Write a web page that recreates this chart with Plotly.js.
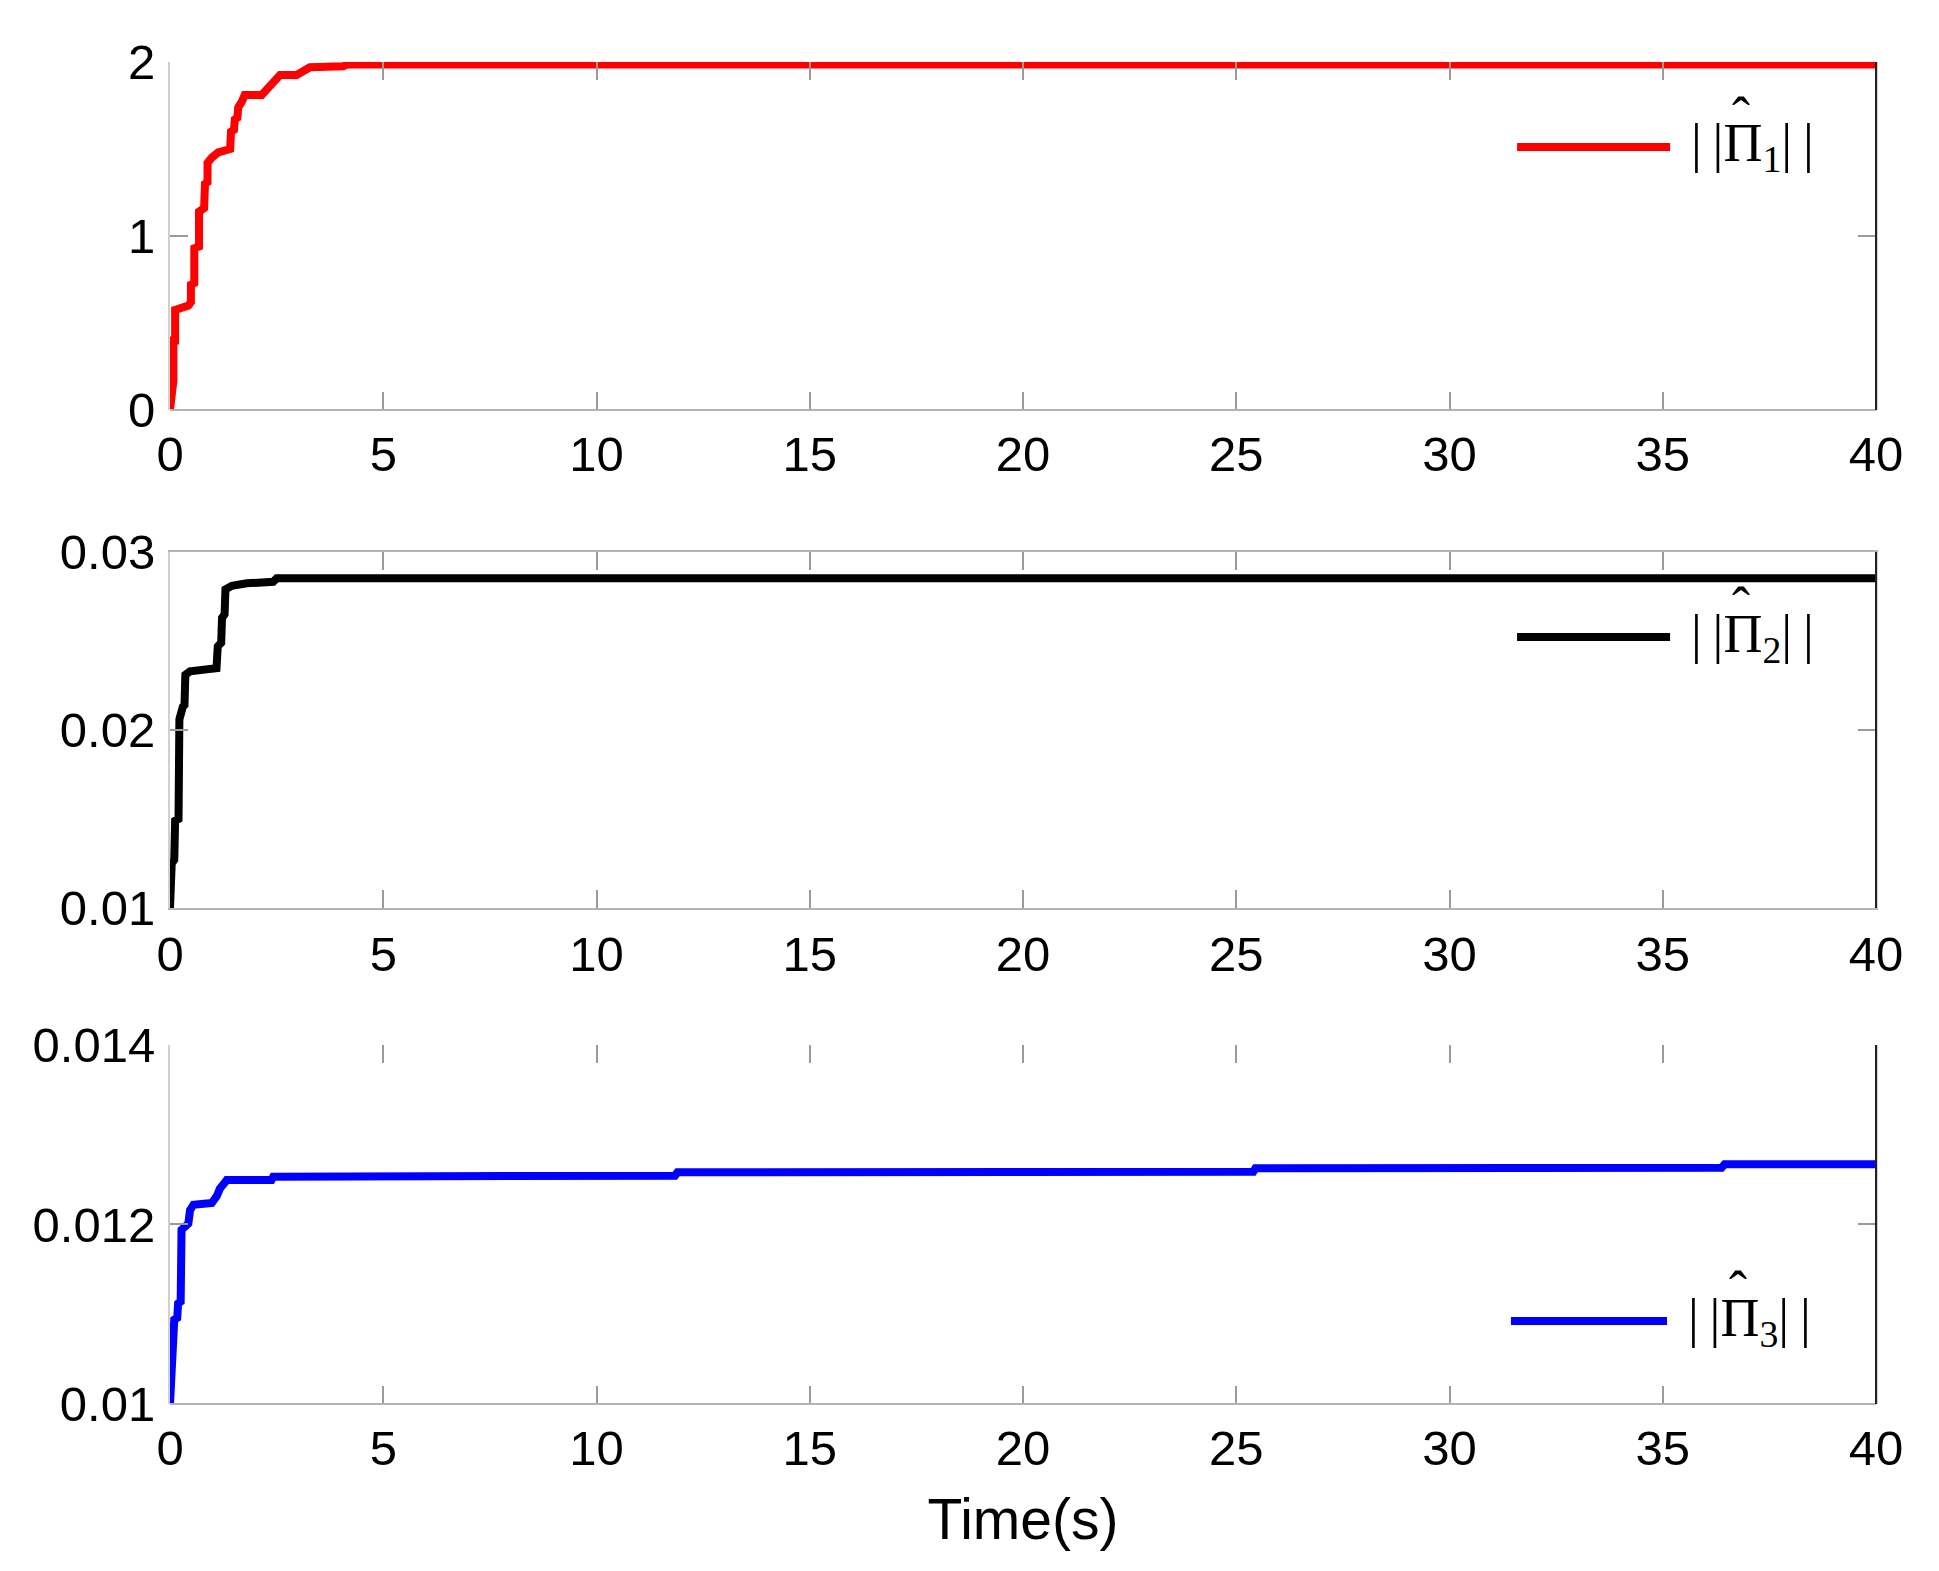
<!DOCTYPE html>
<html>
<head>
<meta charset="utf-8">
<script src="https://cdn.plot.ly/plotly-3.0.1.min.js"></script>
<style>
  html, body { margin: 0; padding: 0; background: #fff; }
  #plot1 { width: 1939px; height: 1571px; }
</style>
</head>
<body>
<div id="plot1"></div>
<script>
// estimated norms of the three estimates
var t1 = [0, 0.04, 0.08, 0.08, 0.12, 0.12, 0.20, 0.43, 0.49, 0.49, 0.57, 0.57, 0.68, 0.68, 0.80, 0.82,
  0.88, 0.88, 0.98, 1.13, 1.41, 1.43, 1.50, 1.52, 1.58, 1.60, 1.68, 1.75, 2.15, 2.58, 2.97, 3.28, 4.06, 4.14, 40];
var pi1 = [0, 0.17, 0.17, 0.40, 0.40, 0.575, 0.58, 0.60, 0.62, 0.72, 0.73, 0.93, 0.94, 1.14, 1.16, 1.30,
  1.31, 1.42, 1.45, 1.48, 1.50, 1.60, 1.61, 1.67, 1.68, 1.74, 1.77, 1.81, 1.81, 1.925, 1.925, 1.97, 1.975, 1.985, 1.985];

var t2 = [0, 0.04, 0.10, 0.12, 0.20, 0.22, 0.30, 0.34, 0.36, 0.47, 1.09, 1.12, 1.20, 1.22, 1.28, 1.30,
  1.45, 1.80, 2.42, 2.50, 40];
var pi2 = [0.0100, 0.0125, 0.0127, 0.0149, 0.0150, 0.0206, 0.0213, 0.0214, 0.0231, 0.0233, 0.02347, 0.0247,
  0.0249, 0.0263, 0.0265, 0.0279, 0.0281, 0.02824, 0.02833, 0.02852, 0.02852];

var t3 = [0, 0.04, 0.08, 0.10, 0.17, 0.19, 0.25, 0.27, 0.43, 0.47, 0.55, 0.98, 1.10, 1.17, 1.29, 1.33,
  2.38, 2.42, 11.84, 11.90, 25.40, 25.45, 36.38, 36.45, 40];
var pi3 = [0.0100, 0.01049, 0.0105, 0.01094, 0.01096, 0.01112, 0.01114, 0.01194, 0.01201, 0.01216, 0.01222,
  0.01224, 0.01232, 0.01240, 0.01247, 0.012496, 0.012496, 0.012533, 0.012544, 0.012582, 0.012588, 0.012626,
  0.012633, 0.01267, 0.01267];

// legend labels ||Π̂_i||, the hat is placed on top as its own text
var names = ['|\u2009|Π<sub>1</sub>|\u2009|', '|\u2009|Π<sub>2</sub>|\u2009|', '|\u2009|Π<sub>3</sub>|\u2009|'];
var colors = ['#ff0000', '#000000', '#0000ff'];

function draw() {
  try {
    var tickFont = {family: 'Liberation Sans, Arial, sans-serif', size: 49, color: '#000'};
    var serif = {family: 'Liberation Serif, Times New Roman, serif', size: 54, color: '#000'};

    var data = [
      {x: t1, y: pi1, xaxis: 'x', yaxis: 'y', mode: 'lines', line: {color: colors[0], width: 8}},
      {x: t2, y: pi2, xaxis: 'x2', yaxis: 'y2', mode: 'lines', line: {color: colors[1], width: 8}},
      {x: t3, y: pi3, xaxis: 'x3', yaxis: 'y3', mode: 'lines', line: {color: colors[2], width: 8}}
    ];

    // panels 1 and 3 have no top frame line, panel 2 has one
    function xax(anchor, topLine) {
      return {
        anchor: anchor, domain: [0, 1], range: [0, 40], dtick: 5,
        showgrid: false, zeroline: false, showline: topLine, linecolor: '#b4b4b4', linewidth: 2,
        mirror: 'ticks', ticks: 'inside', ticklen: 18, tickcolor: '#9a9a9a', tickwidth: 2,
        tickfont: tickFont, ticklabelstandoff: topLine ? 2 : 11, automargin: false
      };
    }
    function yax(anchor, dom, rng, dt) {
      return {
        anchor: anchor, domain: dom, range: rng, dtick: dt,
        showgrid: false, zeroline: false, showline: true, linecolor: '#d0d0d0', linewidth: 2,
        mirror: 'ticks', ticks: 'inside', ticklen: 18, tickcolor: '#9a9a9a', tickwidth: 2,
        tickfont: tickFont, ticklabelstandoff: 3, automargin: false
      };
    }

    var xa3 = xax('y3', false);
    xa3.title = {text: 'Time(s)', font: {family: 'Liberation Sans, Arial, sans-serif', size: 57, color: '#000'}, standoff: 25};

    var shapes = [], annotations = [];
    var legY = [0.756, 0.761, 0.231];
    var legX = [[0.7896, 0.8793], [0.7896, 0.8793], [0.786, 0.8775]];
    ['', '2', '3'].forEach(function (s, i) {
      var xr = 'x' + s + ' domain', yr = 'y' + s + ' domain';
      if (i !== 1) {
        // bottom frame line
        shapes.push({type: 'line', xref: xr, yref: yr, x0: 0, x1: 1, y0: 0, y1: 0,
          line: {color: '#b4b4b4', width: 2}, layer: 'above'});
      }
      shapes.push({type: 'line', xref: xr, yref: yr,
        x0: 1, x1: 1, y0: 0, y1: 1, line: {color: '#222', width: 2}, layer: 'above'});
      shapes.push({type: 'line', xref: xr, yref: yr,
        x0: legX[i][0], x1: legX[i][1], y0: legY[i], y1: legY[i], line: {color: colors[i], width: 8}});
      annotations.push({xref: xr, yref: yr, x: legX[i][1] + 0.011, y: legY[i],
        xanchor: 'left', yanchor: 'middle', showarrow: false, text: names[i], font: serif});
      annotations.push({xref: xr, yref: yr, x: legX[i][1] + 0.011, y: legY[i],
        xanchor: 'center', yanchor: 'middle', xshift: 52, yshift: 30, showarrow: false,
        text: '\u02C6', font: {family: serif.family, size: 54, color: '#000'}});
    });

    var layout = {
      width: 1939, height: 1571,
      margin: {l: 170, r: 63, t: 0, b: 167},
      paper_bgcolor: '#fff', plot_bgcolor: '#fff',
      showlegend: false,
      xaxis: xax('y', false),
      xaxis2: xax('y2', true),
      xaxis3: xa3,
      yaxis: yax('x', [0.70798, 0.95584], [0, 2], 1),
      yaxis2: yax('x2', [0.35328, 0.60684], [0.01, 0.03], 0.01),
      yaxis3: yax('x3', [0, 0.2557], [0.01, 0.014], 0.002),
      shapes: shapes,
      annotations: annotations
    };

    Plotly.newPlot('plot1', data, layout, {staticPlot: true});
  }
  catch (err) {
    console.error(err);
  }
}
draw();
</script>
</body>
</html>
